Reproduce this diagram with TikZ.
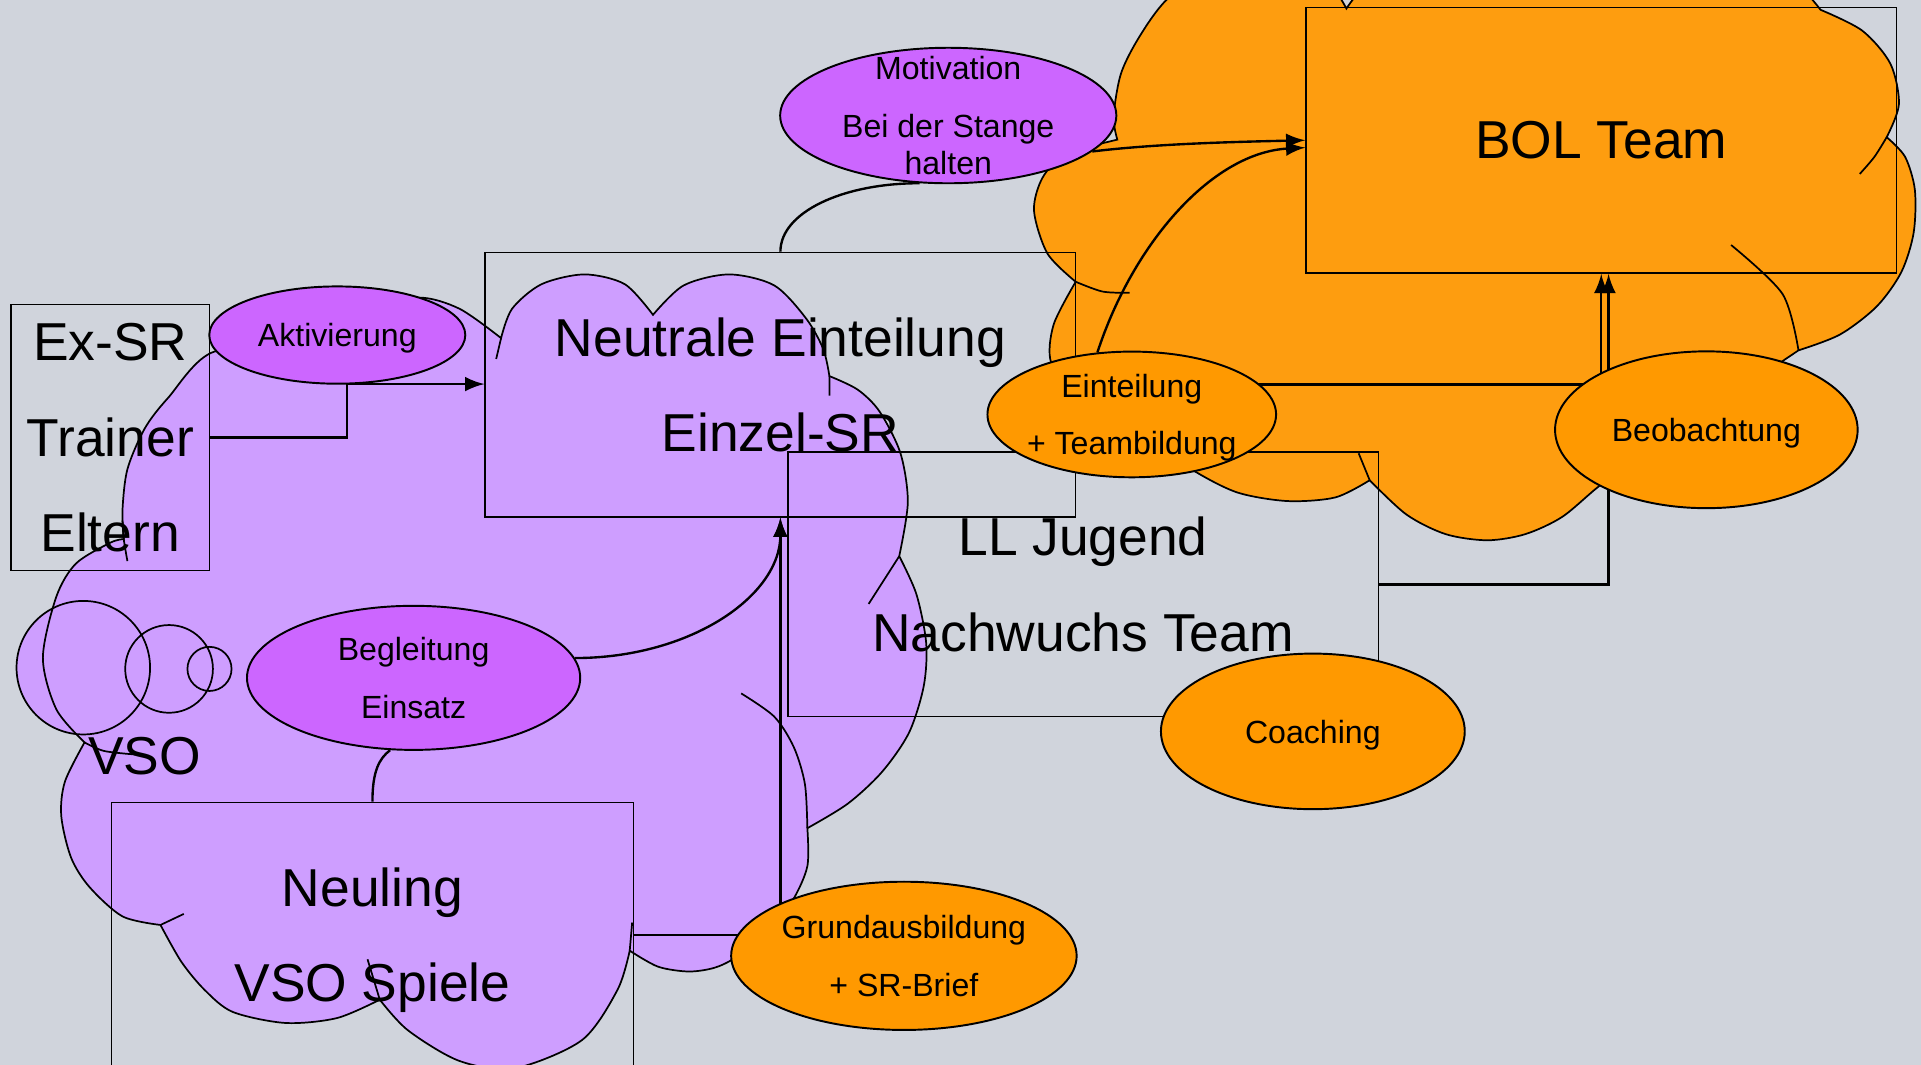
\documentclass[tikz,border=0pt]{standalone}
\usepackage{fontspec}
\setmainfont{Liberation Sans}
\usepackage{xcolor}
\usetikzlibrary{shapes.geometric}
\definecolor{hintergrund}{RGB}{208,212,220}
\definecolor{vsowolke}{RGB}{206,158,255}
\definecolor{vsoblase}{RGB}{204,102,255}
\definecolor{teamwolke}{RGB}{254,157,15}
\definecolor{teamblase}{RGB}{255,153,0}
\newcommand{\grosstext}{\fontsize{12.4pt}{22.2pt}\selectfont}
\newcommand{\kleintext}{\fontsize{7.45pt}{13.4pt}\selectfont}
\tikzstyle{kasten}=[draw, rectangle, line width=.35pt, inner sep=0pt, text depth=0pt, align=center, font=\grosstext]
\tikzstyle{blase}=[draw, ellipse, line width=.45pt, inner xsep=-2mm, inner ysep=-1.5mm, text depth=0pt, align=center, font=\kleintext]
\tikzset{vso/.style={fill=vsoblase}}
\tikzset{team/.style={fill=teamblase}}
\tikzstyle{wolkenlinie}=[line width=.4pt]
\tikzstyle{linie}=[line width=.55pt]
\tikzstyle{pfeil}=[-latex, line width=.55pt]

\begin{document}
\begin{tikzpicture}[x=0.1mm,y=-0.1mm]
  \useasboundingbox (0,0) rectangle (1568,869);
  \clip (0,0) rectangle (1568,869);
  \fill[hintergrund] (0,0) rectangle (1568,869);

  %% VSO cloud with its bubbles
  \path[save path=\vsoumriss]
    plot[smooth] coordinates {(101,440) (100,416) (104,383) (118,350) (137,325) (175,287) (250,290)}
    -- plot[smooth] coordinates {(250,290) (300,256) (341,243) (375,252) (409,276)}
    -- plot[smooth] coordinates {(409,276) (418,252) (442,232) (477,224) (510,232) (533,257)}
    -- plot[smooth] coordinates {(533,257) (558,233) (595,224) (632,233) (658,260) (672,285) (677,307)}
    -- plot[smooth] coordinates {(677,307) (700,318) (718,336) (735,370) (741,410) (734,454)}
    -- plot[smooth] coordinates {(734,454) (748,485) (756,525) (754,560) (742,598) (720,630) (692,656) (659,676)}
    -- plot[smooth] coordinates {(659,676) (659,707) (647,735) (625,765)}
    -- plot[smooth] coordinates {(625,765) (600,782) (583,790) (562,793) (537,789) (514,776)}
    -- plot[smooth] coordinates {(514,776) (504,808) (475,849) (420,872) (375,866) (333,841) (310,816)}
    -- plot[smooth] coordinates {(310,816) (275,831) (233,835) (190,826) (167,808) (148,785) (131,755)}
    -- plot[smooth] coordinates {(131,755) (100,748) (73,724) (58,700) (50,666) (53,638) (69,606)}
    -- plot[smooth] coordinates {(69,606) (46,579) (35,537) (46,487) (62,460) (90,443) (101,440)}
    -- cycle;
  \fill[vsowolke, use path=\vsoumriss];
  \fill[vsowolke] (68,545) circle (54.5) (138,546) circle (35.8) (171,546) circle (18);
  \draw[wolkenlinie, use path=\vsoumriss];
  \draw[wolkenlinie] (68,545) circle (54.5) (138,546) circle (35.8) (171,546) circle (18);
  \draw[wolkenlinie] plot[smooth] coordinates {(100,425) (101,440) (104,458)}
    plot[smooth] coordinates {(69,606) (85,613) (112,616)}
    plot coordinates {(131,755) (150,746)}
    plot coordinates {(514,776) (516,753)}
    plot coordinates {(310,816) (300,783)}
    plot[smooth] coordinates {(605,566) (632,585) (648,610) (657,640) (659,676)}
    plot coordinates {(734,454) (709,493)}
    plot coordinates {(677,307) (677,323)}
    plot coordinates {(409,276) (405,293)};
  \draw (118,617) node[font=\grosstext] (vso) {VSO};

  %% BOL cloud
  \filldraw[fill=teamwolke, wolkenlinie]
    plot[smooth] coordinates {(912,114) (909,95) (915,60) (930,30) (952,0) (990,-30) (1040,-40) (1080,-20) (1099,7)}
    -- plot[smooth] coordinates {(1099,7) (1150,-40) (1290,-60) (1430,-40) (1486,8)}
    -- plot[smooth] coordinates {(1486,8) (1520,25) (1543,52) (1550,85) (1540,112)}
    -- plot[smooth] coordinates {(1540,112) (1555,128) (1563,155) (1562,190) (1552,222) (1532,250) (1502,273) (1468,286)}
    -- plot[smooth] coordinates {(1468,286) (1420,320) (1380,360) (1330,380)}
    -- plot[smooth] coordinates {(1330,380) (1305,397) (1275,422) (1245,436) (1214,441) (1180,436) (1148,420) (1118,392)}
    -- plot[smooth] coordinates {(1118,392) (1090,406) (1051,409) (1010,402) (974,384) (940,360)}
    -- plot[smooth] coordinates {(940,360) (880,320) (858,296) (860,265) (878,230)}
    -- plot[smooth] coordinates {(878,230) (855,207) (844,172) (851,145) (870,126) (912,114)}
    -- cycle;
  \draw[wolkenlinie] plot[smooth] coordinates {(1540,112) (1530,128) (1518,142)}
    plot[smooth] coordinates {(1468,286) (1455,240) (1413,200)}
    plot coordinates {(1118,392) (1109,370)}
    plot[smooth] coordinates {(878,230) (900,238) (922,239)};

  %% Boxes
  \draw (90,357) node[kasten, minimum width=16.2mm, minimum height=21.7mm] (exsr) {Ex-SR\\Trainer\\Eltern};
  \draw (637,314) node[kasten, minimum width=48.2mm, minimum height=21.6mm] (neutral) {Neutrale Einteilung\\Einzel-SR};
  \draw (1307,114.5) node[kasten, minimum width=48.2mm, minimum height=21.7mm] (bol) {BOL Team};
  \draw (884,477) node[kasten, minimum width=48.2mm, minimum height=21.6mm] (ll) {LL Jugend\\Nachwuchs Team};
  \draw (304,763) node[kasten, minimum width=42.6mm, minimum height=21.6mm] (neuling) {Neuling\\VSO Spiele};

  %% Connectors
  \coordinate (aktfuss) at (283,313.5);
  \draw[linie] (exsr.east) -| (aktfuss);
  \draw[pfeil] (aktfuss) -- (aktfuss -| neutral.west);
  \draw[pfeil] (neuling.east) -| (neutral.south);
  \draw[pfeil] (neutral.east) -| (bol.south);
  \draw[pfeil] (ll.east) -| ([xshift=.6mm]bol.south);

  \draw (275.3,273.5) node[blase, vso, minimum width=20.9mm, minimum height=7.94mm] (akt) {Aktivierung};
  \draw (774,94.3) node[blase, vso, minimum width=27.44mm, minimum height=11.06mm] (motiv) {Motivation\\Bei der Stange\\[-4.6pt]halten};
  \draw (337.6,553.3) node[blase, vso, minimum width=27.2mm, minimum height=11.76mm] (begl) {Begleitung\\Einsatz};

  \draw[pfeil] (begl.7) .. controls +(94,0) and +(0,64) .. (neutral.south);
  \draw[linie] (neutral.north) .. controls +(0,-32) and +(-63,0) .. (motiv.-113);
  \draw[linie] (neuling.north) .. controls +(0,-25) and +(-9,7) .. (begl.-108);
  \draw[pfeil] (motiv.-14.5) .. controls +(50,-6) and +(-66,1.5) .. (bol.west);

  \draw (923.8,338.3) node[blase, team, minimum width=23.56mm, minimum height=10.26mm] (eint) {Einteilung\\+ Teambildung};
  \draw[pfeil] (eint.119) .. controls +(29,-89) and +(-76,4) .. ([yshift=-.6mm]bol.west);
  \draw (1392.8,350.8) node[blase, team, minimum width=24.7mm, minimum height=12.8mm] (beob) {Beobachtung};
  \draw (1071.6,597) node[blase, team, minimum width=24.8mm, minimum height=12.7mm] (coach) {Coaching};
  \draw (737.8,780.2) node[blase, team, minimum width=28.2mm, minimum height=12.1mm] (grund) {Grundausbildung\\+ SR-Brief};
\end{tikzpicture}
\end{document}
